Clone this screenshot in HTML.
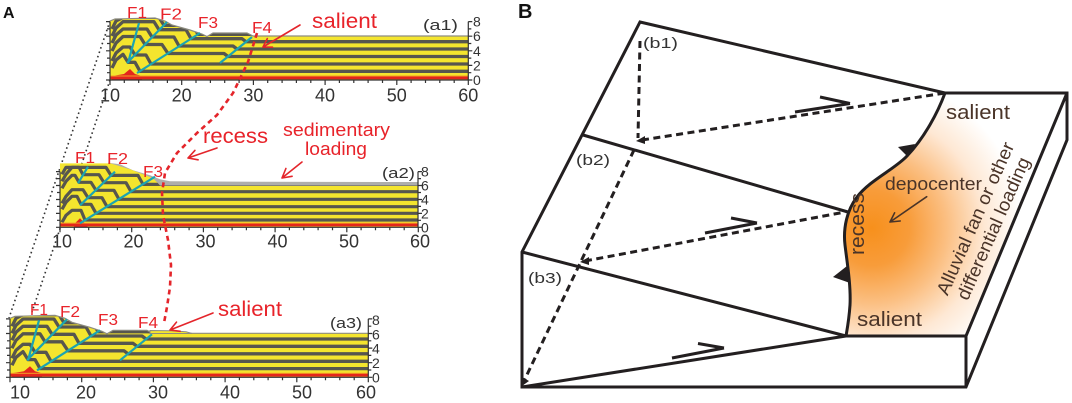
<!DOCTYPE html>
<html><head><meta charset="utf-8">
<style>html,body{margin:0;padding:0;background:#fff}svg{display:block}</style>
</head><body>
<svg width="1072" height="403" viewBox="0 0 1072 403" xmlns="http://www.w3.org/2000/svg" font-family="'Liberation Sans', Arial, sans-serif">
<defs>
<clipPath id="c1"><path d="M0,0 V-59 L5,-61 L45,-62 L55,-59 L62,-55 L80,-50 L92,-46 L97,-43.5 L103,-47 L137,-47 L143,-44 H358.3 V0 Z"/></clipPath>
<clipPath id="c2"><path d="M0,0 V-64 H50 L70,-58 L93,-49 L98,-44 L100,-41.8 H358 V0 Z"/></clipPath>
<path id="xt" fill="none" stroke="#333" stroke-width="1.2" d="M0,0v5M14.3,0v3M28.7,0v3M43,0v3M57.4,0v3M71.7,0v5M86,0v3M100.4,0v3M114.7,0v3M129.1,0v3M143.4,0v5M157.7,0v3M172.1,0v3M186.4,0v3M200.8,0v3M215.1,0v5M229.4,0v3M243.8,0v3M258.1,0v3M272.5,0v3M286.8,0v5M301.1,0v3M315.5,0v3M329.8,0v3M344.2,0v3M358.3,0v5"/>
<g id="m1">
 <g clip-path="url(#c1)">
  <rect x="0" y="-70" width="360" height="70" fill="#f4e52e"/>
  <g fill="none" stroke="#57564e" stroke-width="3.3" stroke-linejoin="round">
   <path d="M358,-8.7 H30 L25,-17.7 H18 L13,-25.7 L6,-20 L2,-12"/>
   <path d="M358,-16 H41 L36,-25 H25 L20,-33 H13 L6,-27 L2,-19"/>
   <path d="M358,-23.5 H118 L114,-26.5 H58 L52,-35.5 H35 L30,-43.5 H13 L6,-37 L2,-29"/>
   <path d="M358,-31 H127 L123,-34 H69 L64,-43 H42 L37,-51 H13 L6,-45 L2,-37"/>
   <path d="M358,-38.3 H136 L132,-41.3 H81 L76,-50.3 H49 L44,-58.3 H13 L6,-52 L2,-44"/>
   <path d="M358,-45.6 H88 L83,-54.6 H54 L49,-62.6 H13 L6,-59 L2,-51"/>
  </g>
  <polygon points="2,0 2,-4 14,-6 20,-11 25,-6 32,-4 32,0" fill="#e4261c"/>
  <rect x="0" y="-4.5" width="360" height="1.2" fill="#f3a024"/>
  <rect x="0" y="-3.5" width="360" height="2.8" fill="#e4261c"/>
 </g>
 <path d="M0,-59 L5,-61 L45,-62 L55,-59 L62,-55 L80,-50 L92,-46 L97,-43.5 L103,-47 L137,-47 L143,-44 H358" fill="none" stroke="#8d8c80" stroke-width="1.2"/>
 <path d="M18,-17 L29,-57 M17,-17 L57,-58 M27,-7 L90,-47 M110,-17 L142,-43" stroke="#1ba4b2" stroke-width="2.2" fill="none"/>
 <path fill="none" stroke="#333" stroke-width="1.2" d="M0,-58.4V0H358.3V-58.4 M0,-58.4h-4M0,-51.1h-3M0,-43.8h-4M0,-36.5h-3M0,-29.2h-4M0,-21.9h-3M0,-14.6h-4M0,-7.3h-3M0,0h-4 M358.3,-58.4h4M358.3,-51.1h3M358.3,-43.8h4M358.3,-36.5h3M358.3,-29.2h4M358.3,-21.9h3M358.3,-14.6h4M358.3,-7.3h3M358.3,0h4"/>
 <use href="#xt"/>
</g>
<radialGradient id="og" gradientUnits="userSpaceOnUse" cx="872" cy="228" r="150">
 <stop offset="0" stop-color="#f7901c"/>
 <stop offset="0.25" stop-color="#f89c3a"/>
 <stop offset="0.5" stop-color="#fbbf82"/>
 <stop offset="0.75" stop-color="#fee8d4"/>
 <stop offset="1" stop-color="#ffffff"/>
</radialGradient>
</defs>

<!-- ===== Panel A ===== -->
<text x="3" y="18" font-size="16" font-weight="bold" fill="#111">A</text>

<!-- dotted connector lines -->
<g stroke="#333" stroke-width="1.6" stroke-dasharray="1.6 3" fill="none">
 <path d="M110,21 L9,318"/>
 <path d="M110,80 L32,312"/>
</g>

<!-- a1 -->
<use href="#m1" transform="translate(110,80)"/>

<!-- a3 -->
<use href="#m1" transform="translate(10,377.3)"/>
<polygon points="150,333.5 150,330.5 170,330.8 186,331.8 192,333.5" fill="#f4e52e" stroke="#8d8c80" stroke-width="1"/>

<!-- a2 -->
<g transform="translate(60,227.3)">
 <polygon points="48,-64.5 60,-63 73,-57 90,-52 100,-48 110,-46 200,-45.5 358,-45.3 358,-40 48,-40" fill="#aeaeab"/>
 <g clip-path="url(#c2)">
  <rect x="0" y="-70" width="360" height="70" fill="#f4e52e"/>
  <g fill="none" stroke="#57564e" stroke-width="3.2" stroke-linejoin="round">
   <path d="M358,-7.3 H25 L21,-17 H12 L6,-12 L2,-5"/>
   <path d="M358,-14 H36 L31,-23 H21 L17,-31 H12 L6,-25 L2,-18"/>
   <path d="M358,-20.6 H47 L42,-29.6 H28 L23,-37.6 H12 L6,-31 L2,-24"/>
   <path d="M358,-28 H59 L54,-37 H36 L31,-45 H19 L15,-52 H12 L6,-46 L2,-39"/>
   <path d="M358,-35.6 H71 L66,-44.6 H44 L39,-52.6 H23 L19,-60 H12 L6,-53 L2,-46"/>
   <path d="M358,-42.9 H83 L78,-51.9 H51 L46,-59.9 H12 L6,-60 L2,-53"/>
  </g>
  <polygon points="14,0 16,-5 20,-9 24,-5 28,0" fill="#e4261c"/>
  <rect x="0" y="-4.7" width="360" height="1.2" fill="#f3a024"/>
  <rect x="0" y="-3.7" width="360" height="2.8" fill="#e4261c"/>
 </g>
 <path d="M20,-4 L95,-50.6 M20,-22 L55,-55.6 M18,-44 L28,-60.6" stroke="#1ba4b2" stroke-width="2.2" fill="none"/>
 <path fill="none" stroke="#333" stroke-width="1.2" d="M0,-55.7V0H358V-55.7 M0,-55.7h-4M0,-48.7h-3M0,-41.8h-4M0,-34.8h-3M0,-27.8h-4M0,-20.9h-3M0,-13.9h-4M0,-7h-3M0,0h-4 M358,-55.7h4M358,-48.7h3M358,-41.8h4M358,-34.8h3M358,-27.8h4M358,-20.9h3M358,-13.9h4M358,-7h3M358,0h4"/>
 <use href="#xt"/>
</g>

<!-- red dashed curve -->
<polyline points="257,33 248,62 233,93 217,115 197,133 177,153 165,173 162,193 163,215 168,240 171,265 170,287 167,307 164,323" fill="none" stroke="#e4252b" stroke-width="2.6" stroke-dasharray="5 4" stroke-linejoin="round"/>

<!-- red arrows -->
<g stroke="#e4252b" stroke-width="1.6" fill="none" stroke-linecap="round" stroke-linejoin="round">
 <path d="M300,25 L263,47 M267.3,38.6 L263,47 L272.5,47.2"/>
 <path d="M217,148 L188,158 M194.9,150.4 L188,158 L198.1,159.8"/>
 <path d="M302,162 L282,178 M285.9,168.5 L282,178 L292.1,176.3"/>
 <path d="M213,313 L170,330 M176.5,322.1 L170,330 L180.2,331.3"/>
</g>

<!-- red labels -->
<g fill="#e8232a" font-size="16">
 <text x="127" y="18" textLength="20" lengthAdjust="spacingAndGlyphs">F1</text>
 <text x="160" y="19.5" textLength="22" lengthAdjust="spacingAndGlyphs">F2</text>
 <text x="198" y="28" textLength="20" lengthAdjust="spacingAndGlyphs">F3</text>
 <text x="252" y="33" textLength="20" lengthAdjust="spacingAndGlyphs">F4</text>
 <text x="75" y="163" textLength="20" lengthAdjust="spacingAndGlyphs">F1</text>
 <text x="107" y="164" textLength="21" lengthAdjust="spacingAndGlyphs">F2</text>
 <text x="143" y="177" textLength="20" lengthAdjust="spacingAndGlyphs">F3</text>
 <text x="30" y="315" textLength="18" lengthAdjust="spacingAndGlyphs">F1</text>
 <text x="60" y="317" textLength="20" lengthAdjust="spacingAndGlyphs">F2</text>
 <text x="98" y="325" textLength="20" lengthAdjust="spacingAndGlyphs">F3</text>
 <text x="138" y="328" textLength="20" lengthAdjust="spacingAndGlyphs">F4</text>
 <text x="312" y="28" font-size="21" textLength="65" lengthAdjust="spacingAndGlyphs">salient</text>
 <text x="203" y="143" font-size="21" textLength="65" lengthAdjust="spacingAndGlyphs">recess</text>
 <text x="283" y="136" font-size="18" textLength="107" lengthAdjust="spacingAndGlyphs">sedimentary</text>
 <text x="305" y="155" font-size="18" textLength="62" lengthAdjust="spacingAndGlyphs">loading</text>
 <text x="218" y="316" font-size="21" textLength="64" lengthAdjust="spacingAndGlyphs">salient</text>
</g>

<!-- panel tags -->
<g fill="#333" font-size="15">
 <text x="423" y="30" textLength="35" lengthAdjust="spacingAndGlyphs">(a1)</text>
 <text x="382" y="178" textLength="33" lengthAdjust="spacingAndGlyphs">(a2)</text>
 <text x="330" y="328" textLength="32" lengthAdjust="spacingAndGlyphs">(a3)</text>
</g>

<!-- tick labels -->
<g fill="#333" font-size="18" text-anchor="middle">
 <text x="110" y="101.5">10</text><text x="181.7" y="101.5">20</text><text x="253.4" y="101.5">30</text><text x="325" y="101.5">40</text><text x="396.8" y="101.5">50</text><text x="468.3" y="101.5">60</text>
 <text x="62" y="247.5">10</text><text x="133.5" y="247.5">20</text><text x="205.5" y="247.5">30</text><text x="277.5" y="247.5">40</text><text x="349" y="247.5">50</text><text x="420" y="247.5">60</text>
 <text x="20" y="398.5">10</text><text x="86" y="398.5">20</text><text x="158" y="398.5">30</text><text x="230" y="398.5">40</text><text x="302" y="398.5">50</text><text x="366" y="398.5">60</text>
</g>
<g fill="#333" font-size="14">
 <text x="473" y="26.6">8</text><text x="473" y="41.2">6</text><text x="473" y="55.8">4</text><text x="473" y="70.4">2</text><text x="473" y="85">0</text>
 <text x="421" y="176.6">8</text><text x="421" y="190.5">6</text><text x="421" y="204.5">4</text><text x="421" y="218.4">2</text><text x="421" y="232.3">0</text>
 <text x="372" y="325">8</text><text x="372" y="339.3">6</text><text x="372" y="353.6">4</text><text x="372" y="368">2</text><text x="372" y="382.3">0</text>
</g>

<!-- ===== Panel B ===== -->
<text x="518" y="18" font-size="20" font-weight="bold" fill="#111">B</text>

<path d="M945,93 C938,112 925,137 907,156 C895,169 870,180 857,197 C847,210 843,228 845,245 C847,262 851,285 850,305 C849,320 847,330 846,336 L966,336 L1067,93 Z" fill="url(#og)"/>

<g stroke="#231f20" stroke-width="3" fill="none" stroke-linejoin="miter">
 <path d="M640,22 L945,93 H1067 V140 L966,387 H522 V252 Z"/>
 <path d="M1067,93 L966,336 H846 M966,336 V387 M583,135 L848,212 M522,252 L846,336 M522,387 L846,336"/>
 <path d="M945,93 C938,112 925,137 907,156 C895,169 870,180 857,197 C847,210 843,228 845,245 C847,262 851,285 850,305 C849,320 847,330 846,336"/>
</g>

<g stroke="#231f20" stroke-width="3" fill="none" stroke-dasharray="7 4.5">
 <path d="M640,41 L638,138"/>
 <path d="M642,140 L945,93"/>
 <path d="M634,150 L524,381"/>
 <path d="M585,261 L845,212"/>
</g>
<g fill="#231f20">
 <polygon points="636,141 645,136 645,144"/>
 <polygon points="580,262 589,257 589,265"/>
 <polygon points="522,386 522,377 529,381"/>
 <polygon points="898,147 915,144 908,157"/>
 <polygon points="833,277 847,266 850,283"/>
</g>

<!-- half arrows -->
<g stroke="#231f20" stroke-width="3" fill="none" stroke-linecap="butt">
 <path d="M795,112 L850,103.5 M820,97 L850,103.5"/>
 <path d="M705,233 L757,223 M731,218 L757,223"/>
 <path d="M672,358 L724,348 M698,343.5 L724,348"/>
</g>

<!-- depocenter arrow -->
<path d="M926.7,196.7 L890,222 M894.6,212.8 L890,222 L900.2,221" stroke="#4a3428" stroke-width="1.6" fill="none" stroke-linecap="round" stroke-linejoin="round"/>

<g fill="#333" font-size="15">
 <text x="643" y="48" textLength="35" lengthAdjust="spacingAndGlyphs">(b1)</text>
 <text x="576" y="165" textLength="34" lengthAdjust="spacingAndGlyphs">(b2)</text>
 <text x="528" y="283" textLength="34" lengthAdjust="spacingAndGlyphs">(b3)</text>
</g>
<g fill="#4a3428">
 <text x="946" y="119" font-size="20" textLength="64" lengthAdjust="spacingAndGlyphs">salient</text>
 <text x="857" y="326" font-size="20" textLength="65" lengthAdjust="spacingAndGlyphs">salient</text>
 <text x="885" y="190" font-size="18" textLength="97" lengthAdjust="spacingAndGlyphs">depocenter</text>
 <text transform="translate(864,224) rotate(-90)" text-anchor="middle" font-size="20" textLength="62" lengthAdjust="spacingAndGlyphs">recess</text>
 <text transform="translate(981,221) rotate(-66)" text-anchor="middle" font-size="18.5" textLength="165" lengthAdjust="spacingAndGlyphs">Alluvial fan or other</text>
 <text transform="translate(999,231) rotate(-66)" text-anchor="middle" font-size="18.5" textLength="154" lengthAdjust="spacingAndGlyphs">differential loading</text>
</g>
</svg>
</body></html>
